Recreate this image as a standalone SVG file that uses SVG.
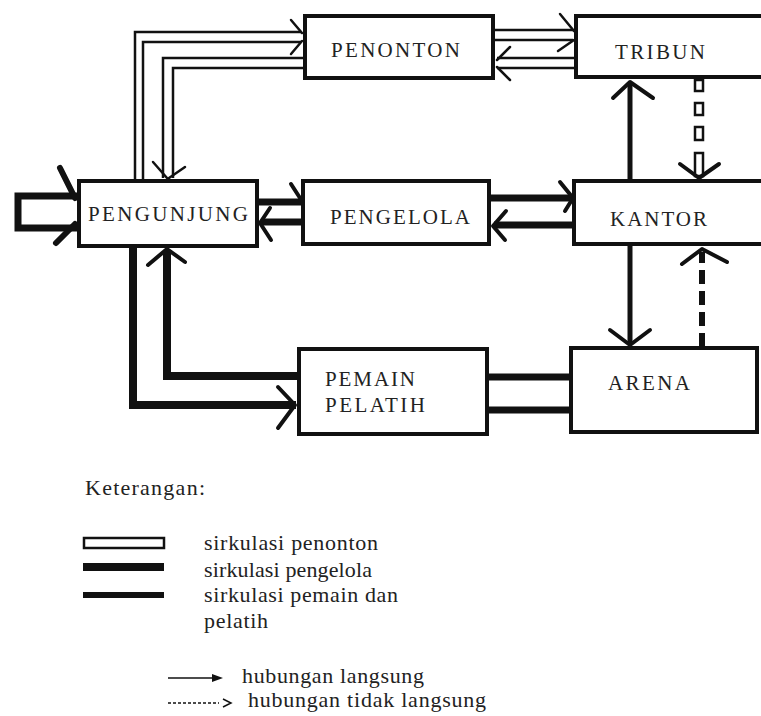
<svg xmlns="http://www.w3.org/2000/svg" width="761" height="716" viewBox="0 0 761 716">
<style>
.box{fill:#fff;stroke:#111;stroke-width:4}
.lbl{font-family:"Liberation Serif","Times New Roman",serif;font-size:21px;fill:#222}
.leg{font-family:"Liberation Serif","Times New Roman",serif;font-size:22px;fill:#222}
.thin{fill:none;stroke:#111;stroke-width:2.5}
.peng{fill:none;stroke:#111;stroke-width:7}
.pem{fill:none;stroke:#111;stroke-width:8}
.solid{fill:none;stroke:#111;stroke-width:5}
.head{fill:none;stroke:#111;stroke-width:4;stroke-linecap:round;stroke-linejoin:round}
.headthin{fill:none;stroke:#111;stroke-width:2.5;stroke-linecap:round}
</style>
<rect width="761" height="716" fill="#fff"/>

<g id="connectors">
  <!-- entry to PENGUNJUNG (hollow) -->
  <path class="peng" d="M77,196 H18 V228 H77"/>
  <path class="head" style="stroke-width:6" d="M60,168 L75,198 M56,243 L75,224"/>

  <!-- PENGUNJUNG -> PENONTON (double thin) -->
  <path class="thin" d="M135,181 V32 H301"/>
  <path class="thin" d="M143,181 V42 H301"/>
  <path class="headthin" d="M291,20 L302,33 M291,54 L302,41"/>
  <!-- PENONTON -> PENGUNJUNG -->
  <path class="thin" d="M303,58 H163 V178"/>
  <path class="thin" d="M303,68 H173 V178"/>
  <path class="headthin" d="M153,162 L167,178 M185,167 L169,178"/>

  <!-- PENONTON <-> TRIBUN -->
  <path class="thin" d="M495,30 H573 M495,40 H573"/>
  <path class="headthin" d="M560,14 L574,31 M558,51 L574,40"/>
  <path class="thin" d="M575,58 H497 M575,68 H497"/>
  <path class="headthin" d="M510,47 L497,60 M510,80 L497,67"/>

  <!-- PENGUNJUNG <-> PENGELOLA -->
  <path class="peng" d="M258,202 H301"/>
  <path class="head" d="M291,184 L300,198"/>
  <path class="peng" d="M301,222 H262"/>
  <path class="head" d="M270,208 L260,223 L271,240"/>

  <!-- PENGELOLA <-> KANTOR -->
  <path class="peng" d="M490,198 H571"/>
  <path class="head" d="M560,182 L573,198 L565,211"/>
  <path class="peng" d="M573,225 H494"/>
  <path class="head" d="M506,211 L493,226 L505,240"/>

  <!-- KANTOR -> TRIBUN -->
  <path class="solid" d="M630,180 V83"/>
  <path class="head" d="M613,98 L630,82 L653,98"/>

  <!-- TRIBUN -> KANTOR (indirect, hollow dashes) -->
  <rect class="thin" x="695" y="80" width="8" height="11" fill="#fff"/>
  <rect class="thin" x="695" y="103" width="8" height="12" fill="#fff"/>
  <rect class="thin" x="695" y="127" width="8" height="13" fill="#fff"/>
  <rect class="thin" x="695" y="153" width="8" height="23" fill="#fff"/>
  <path class="head" d="M680,164 L699,178 L719,164"/>

  <!-- KANTOR -> ARENA -->
  <path class="solid" d="M630,246 V344"/>
  <path class="head" d="M610,330 L630,345 L650,330"/>

  <!-- ARENA -> KANTOR (indirect, thick dashes) -->
  <path d="M702,347 V252" fill="none" stroke="#111" stroke-width="6" stroke-dasharray="14 7"/>
  <path class="head" d="M682,264 L702,249 L727,262"/>

  <!-- PEMAIN <-> ARENA -->
  <path class="peng" d="M488,377 H571 M488,410 H571"/>

  <!-- PENGUNJUNG -> PEMAIN -->
  <path class="pem" d="M133,247 V405 H296"/>
  <path class="head" d="M278,387 L295,405 L278,428"/>
  <!-- PEMAIN -> PENGUNJUNG -->
  <path class="pem" d="M298,376 H167 V251"/>
  <path class="head" d="M148,265 L167,249 L185,262"/>
</g>

<g id="penonton">
  <rect class="box" x="305" y="16" width="188" height="62"/>
  <text class="lbl" x="331" y="57" textLength="129" lengthAdjust="spacing">PENONTON</text>
</g>
<g id="tribun">
  <rect class="box" x="576" y="16" width="200" height="61"/>
  <text class="lbl" x="615" y="59" textLength="90" lengthAdjust="spacing">TRIBUN</text>
</g>
<g id="pengunjung">
  <rect class="box" x="79" y="181" width="178" height="65"/>
  <text class="lbl" x="88" y="221" textLength="160" lengthAdjust="spacing">PENGUNJUNG</text>
</g>
<g id="pengelola">
  <rect class="box" x="303" y="181" width="186" height="63"/>
  <text class="lbl" x="330" y="224" textLength="140" lengthAdjust="spacing">PENGELOLA</text>
</g>
<g id="kantor">
  <rect class="box" x="574" y="181" width="200" height="63"/>
  <text class="lbl" x="610" y="226" textLength="97" lengthAdjust="spacing">KANTOR</text>
</g>
<g id="pemain-pelatih">
  <rect class="box" x="299" y="349" width="188" height="85"/>
  <text class="lbl" x="325" y="386" textLength="90" lengthAdjust="spacing">PEMAIN</text>
  <text class="lbl" x="325" y="412" textLength="100" lengthAdjust="spacing">PELATIH</text>
</g>
<g id="arena">
  <rect class="box" x="571" y="348" width="186" height="84"/>
  <text class="lbl" x="608" y="390" textLength="82" lengthAdjust="spacing">ARENA</text>
</g>

<g id="legend">
  <text class="leg" x="85" y="495" textLength="120" lengthAdjust="spacing">Keterangan:</text>
  <rect x="84" y="538" width="80" height="10" fill="#fff" stroke="#111" stroke-width="2.5"/>
  <path d="M83,567 H164" stroke="#111" stroke-width="8"/>
  <path d="M83,595 H164" stroke="#111" stroke-width="6"/>
  <text class="leg" x="204" y="550" textLength="174" lengthAdjust="spacing">sirkulasi penonton</text>
  <text class="leg" x="204" y="577" textLength="168" lengthAdjust="spacing">sirkulasi pengelola</text>
  <text class="leg" x="204" y="602" textLength="194" lengthAdjust="spacing">sirkulasi pemain dan</text>
  <text class="leg" x="204" y="628" textLength="64" lengthAdjust="spacing">pelatih</text>
  <path d="M168,678 H216" stroke="#111" stroke-width="1.5"/>
  <path d="M212,674 L223,678 L212,682 Z" fill="#111"/>
  <text class="leg" x="242" y="683" textLength="182" lengthAdjust="spacing">hubungan langsung</text>
  <path d="M168,703 H219" stroke="#111" stroke-width="1.5" stroke-dasharray="3 2"/>
  <path d="M223,699 L231,703 L223,707" fill="none" stroke="#111" stroke-width="1.5"/>
  <text class="leg" x="248" y="707" textLength="238" lengthAdjust="spacing">hubungan tidak langsung</text>
</g>
</svg>
